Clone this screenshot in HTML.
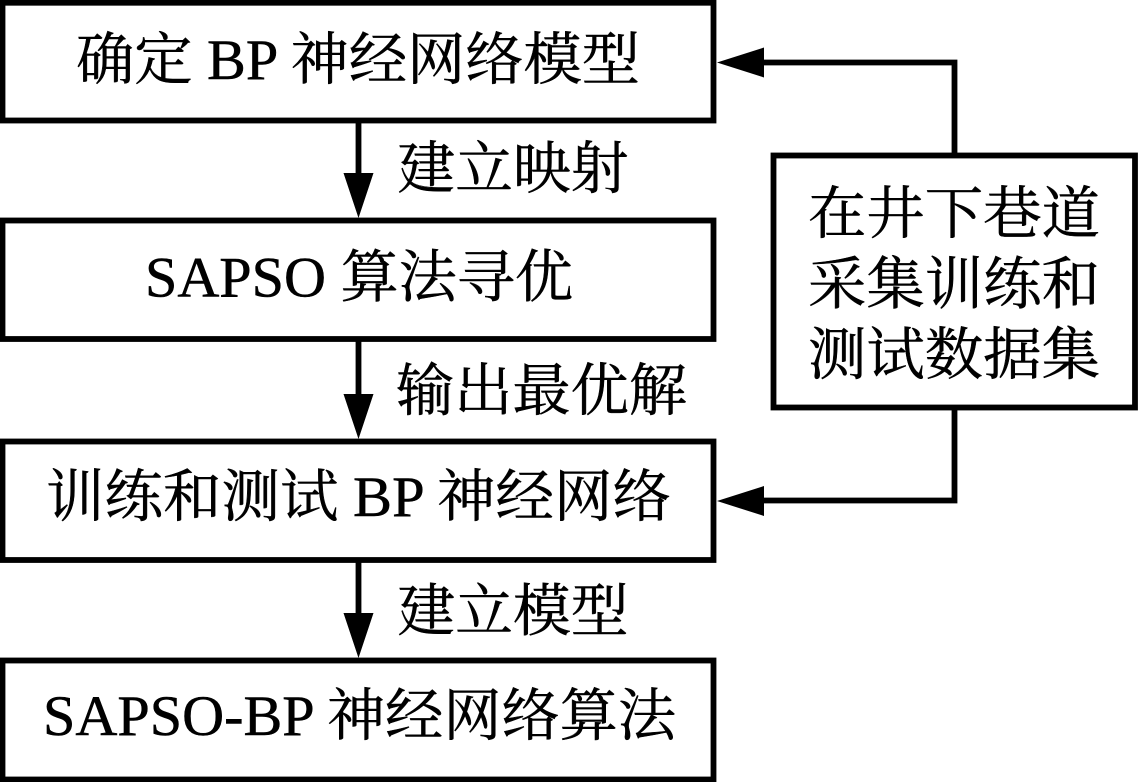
<!DOCTYPE html>
<html>
<head>
<meta charset="utf-8">
<style>
html,body{margin:0;padding:0;background:#fff;}
body{width:1138px;height:782px;overflow:hidden;}
svg{display:block;}
text{font-family:"Liberation Serif","Noto Serif CJK SC",serif;font-size:57px;fill:#000;stroke:#000;stroke-width:.5px;}
</style>
</head>
<body>
<svg width="1138" height="782" viewBox="0 0 1138 782">
<g fill="none" stroke="#000" stroke-width="5.8">
<rect x="2.5" y="2.75" width="711" height="117.75"/>
<rect x="2.5" y="220.5" width="711" height="118.5"/>
<rect x="2.5" y="441.5" width="711" height="118.5"/>
<rect x="2.5" y="660.5" width="711" height="119"/>
<rect x="773.5" y="155.5" width="361.5" height="252"/>
<path d="M358.5 120V180M358.5 339V400M358.5 560V620"/>
<path d="M954.5 155V62.5H755M954.5 407V500.5H755"/>
</g>
<g fill="#000">
<polygon points="358.5,218 343.5,173 373.5,173"/>
<polygon points="358.5,439 343.5,394 373.5,394"/>
<polygon points="358.5,658 343.5,613 373.5,613"/>
<polygon points="717,62.5 764,47.5 764,77.5"/>
<polygon points="717,501 764,486 764,516"/>
</g>
<text x="76" y="79" textLength="564" lengthAdjust="spacingAndGlyphs">确定 BP 神经网络模型</text>
<text x="397.5" y="188" textLength="231" lengthAdjust="spacingAndGlyphs">建立映射</text>
<text x="145" y="296.5" textLength="428" lengthAdjust="spacingAndGlyphs">SAPSO 算法寻优</text>
<text x="396" y="410" textLength="291" lengthAdjust="spacingAndGlyphs">输出最优解</text>
<text x="46" y="516" textLength="625" lengthAdjust="spacingAndGlyphs">训练和测试 BP 神经网络</text>
<text x="397.5" y="630.5" textLength="231" lengthAdjust="spacingAndGlyphs">建立模型</text>
<text x="43" y="735" textLength="633" lengthAdjust="spacingAndGlyphs">SAPSO-BP 神经网络算法</text>
<text x="808" y="233" textLength="292" lengthAdjust="spacingAndGlyphs">在井下巷道</text>
<text x="808" y="303.5" textLength="292" lengthAdjust="spacingAndGlyphs">采集训练和</text>
<text x="808" y="374" textLength="292" lengthAdjust="spacingAndGlyphs">测试数据集</text>
</svg>
</body>
</html>
